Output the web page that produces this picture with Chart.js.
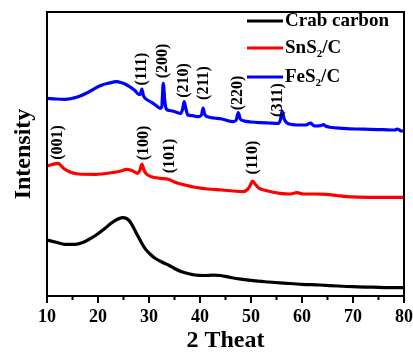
<!DOCTYPE html>
<html>
<head>
<meta charset="utf-8">
<script src="https://cdn.jsdelivr.net/npm/chart.js@4.4.0/dist/chart.umd.min.js"></script>
<style>
  html, body { margin: 0; padding: 0; background: #fff; }
  #caja { width: 413px; height: 353px; }
</style>
</head>
<body>
<div id="caja"><canvas id="grafica"></canvas></div>
<script>
const serif = '"Liberation Serif", "Times New Roman", serif';

// 2θ (grados) e intensidad (u.a.) de cada muestra
const crabTheta = [10, 12, 13.5, 15.5, 17, 18, 19.5, 21.4, 22.5, 23.7, 24.8, 25.6, 26.3, 27.1, 27.9, 29.2, 30.2, 31.2, 32.5, 33.8, 35, 36.4, 38, 39, 41, 42.5, 44, 46, 48, 50.4, 53.5, 57, 60, 63.5, 67, 70, 74, 77, 80];
const crabInt = [56, 53.5, 51.7, 51.7, 53.5, 56, 60.5, 67.7, 72.5, 76.5, 78.3, 77.5, 74.3, 67, 59.3, 47.7, 42, 37.7, 34, 31, 27.5, 24.3, 22, 21, 20.5, 20.8, 20.5, 18.5, 16.8, 15.3, 14, 12.7, 11.7, 11, 10, 9.3, 8.8, 8.4, 8.3];

const snsTheta = [10, 11, 12.2, 13, 13.5, 14.5, 16.1, 19.4, 22.7, 24.5, 25.6, 26.7, 27.8, 28.3, 28.6, 29, 29.5, 30.5, 32.2, 33.8, 34.8, 35.7, 37.5, 39, 41.5, 44.3, 46.5, 48.5, 49.3, 49.8, 50.3, 50.8, 51.5, 53.1, 55.7, 57.6, 58.6, 59, 60.3, 62.5, 64.8, 66.8, 68.8, 71, 73.3, 76.5, 80];
const snsInt = [130, 131.5, 132.7, 129, 126.7, 124, 122, 121.7, 123.3, 125, 126.7, 125.3, 122.7, 127, 132, 126, 122, 119.3, 117.7, 116.7, 114.5, 112.7, 110.5, 108.7, 107, 106, 105, 104.3, 106.5, 110, 115, 112, 108, 105.3, 102.7, 102, 103, 103.3, 102, 102, 101.7, 100.5, 99.3, 98.8, 98.7, 98.7, 98.7];

const fesTheta = [10, 11.8, 13.5, 16.1, 17.8, 19.4, 20.8, 22, 23.7, 24.5, 25.3, 26.3, 27.3, 28, 28.3, 28.6, 28.9, 29.3, 30.5, 31.4, 32.2, 32.5, 32.8, 33.1, 33.4, 34, 35.1, 36.2, 36.6, 36.9, 37.2, 37.6, 38.5, 39.7, 40.3, 40.6, 40.9, 41.4, 42.8, 44.3, 46.5, 47.1, 47.5, 47.9, 48.5, 50, 51.8, 53.5, 55.4, 55.8, 56.1, 56.5, 57, 58, 59, 60.8, 61.4, 61.7, 62, 62.5, 63.8, 64.2, 64.6, 65.5, 68, 70.5, 73.3, 76, 78.2, 78.7, 79.1, 79.5, 80];
const fesInt = [197.7, 197, 196.7, 199.3, 203, 207.7, 211, 212.7, 214.3, 213.5, 212, 209, 205.3, 201.5, 202, 207, 200.5, 197.5, 193.7, 190.5, 187.7, 189, 212.7, 195, 187, 185.5, 184.3, 182.5, 187, 194.5, 188, 181, 180.3, 179.3, 181, 188, 182, 179.3, 178, 177, 174.3, 176, 183.5, 177, 175.3, 174, 173.3, 173, 172.7, 177, 185, 177, 173.3, 171.5, 171, 171, 172.5, 173, 171.5, 170, 170.5, 171.5, 170, 168.7, 167.7, 167, 166.7, 166.3, 166, 167, 166, 165, 165];

const nombres = ['Crab carbon', 'SnS2/C', 'FeS2/C'];
const colores = ['#000000', '#ff0000', '#0000ff'];

// índices de Miller: posición 2θ y altura de la etiqueta
const picosTexto = ['(111)', '(200)', '(210)', '(211)', '(220)', '(311)', '(001)', '(100)', '(101)', '(110)'];
const picosTheta = [28.6, 32.8, 36.9, 40.8, 47.5, 55.2, 12.2, 28.9, 34.0, 50.45];
const picosAltura = [227, 235, 215.5, 213, 203, 196, 153.5, 153, 140, 138.5];

const xTicks = [10, 20, 30, 40, 50, 60, 70, 80];

const puntos = (xs, ys) => xs.map((x, i) => ({ x, y: ys[i] }));

// texto con los dígitos como subíndice (SnS2 -> SnS₂)
const textoSub = (ctx, txt, x, y, size) => {
    const partes = txt.split(/(\d)/).filter(p => p !== '');
    partes.forEach(p => {
        const sub = /^\d$/.test(p);
        ctx.font = `bold ${sub ? Math.round(size * 0.6) : size}px ${serif}`;
        ctx.fillText(p, x, sub ? y + size * 0.3 : y);
        x += ctx.measureText(p).width;
    });
};

const marco = {
    id: 'marco',
    afterDraw(chart) {
        const { ctx, chartArea: a, scales: { x, y } } = chart;
        ctx.save();
        ctx.strokeStyle = '#000';
        ctx.lineWidth = 2;
        ctx.strokeRect(a.left, a.top, a.right - a.left, a.bottom - a.top);

        // marcas del eje x: largas cada 10, cortas cada 5
        ctx.beginPath();
        x.ticks.forEach(t => {
            const px = x.getPixelForValue(t.value);
            const largo = t.value % 10 === 0 ? 7 : 4;
            ctx.moveTo(px, a.bottom);
            ctx.lineTo(px, a.bottom + largo);
        });
        ctx.stroke();

        // etiquetas de los picos, giradas
        ctx.fillStyle = '#000';
        ctx.font = `bold 16px ${serif}`;
        ctx.textAlign = 'center';
        ctx.textBaseline = 'middle';
        picosTexto.forEach((txt, i) => {
            ctx.save();
            ctx.translate(x.getPixelForValue(picosTheta[i]), y.getPixelForValue(picosAltura[i]));
            ctx.rotate(-Math.PI / 2);
            ctx.fillText(txt, 0, 0);
            ctx.restore();
        });

        // leyenda
        const filas = [21, 48, 77];
        ctx.textAlign = 'left';
        chart.data.datasets.forEach((ds, i) => {
            ctx.strokeStyle = ds.borderColor;
            ctx.lineWidth = 3;
            ctx.beginPath();
            ctx.moveTo(247, filas[i]);
            ctx.lineTo(283, filas[i]);
            ctx.stroke();
            ctx.fillStyle = '#000';
            textoSub(ctx, ds.label, 285, filas[i], 19);
        });
        ctx.restore();
    }
};

new Chart(document.querySelector('#grafica'), {
    type: 'line',
    data: {
        datasets: [
            { label: nombres[0], data: puntos(crabTheta, crabInt), borderColor: colores[0] },
            { label: nombres[1], data: puntos(snsTheta, snsInt), borderColor: colores[1] },
            { label: nombres[2], data: puntos(fesTheta, fesInt), borderColor: colores[2] }
        ]
    },
    options: {
        responsive: true,
        maintainAspectRatio: false,
        animation: false,
        devicePixelRatio: 1,
        layout: { padding: { top: 12, right: 0, left: 0, bottom: 0 } },
        elements: {
            point: { radius: 0 },
            line: { borderWidth: 3.2, cubicInterpolationMode: 'monotone', fill: false }
        },
        plugins: { legend: { display: false }, tooltip: { enabled: false } },
        scales: {
            x: {
                type: 'linear',
                min: 10,
                max: 80,
                grid: { display: false, drawTicks: false },
                border: { display: false },
                ticks: {
                    stepSize: 5,
                    padding: 11,
                    color: '#000',
                    font: { family: serif, size: 18, weight: 'bold' },
                    callback: v => xTicks.includes(v) ? v : ''
                },
                title: {
                    display: true,
                    text: '2 Theat',
                    color: '#000',
                    padding: 0,
                    font: { family: serif, size: 24, weight: 'bold', lineHeight: 1 }
                },
                afterFit: s => {
                    s.height = 57;
                    s.paddingLeft = 0;
                    s.paddingRight = 9;
                }
            },
            y: {
                min: 0,
                max: 284,
                grid: { display: false, drawTicks: false },
                border: { display: false },
                ticks: { display: false },
                title: {
                    display: true,
                    text: 'Intensity',
                    color: '#000',
                    padding: { top: 9, bottom: 0 },
                    font: { family: serif, size: 24, weight: 'bold' }
                },
                afterFit: s => { s.width = 47; }
            }
        }
    },
    plugins: [marco]
});
</script>
</body>
</html>
